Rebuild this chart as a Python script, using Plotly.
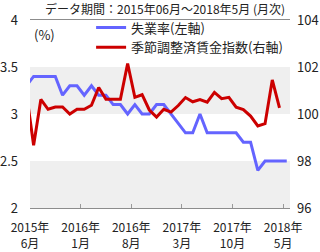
import numpy as np
import plotly.graph_objects as go

# Data (monthly; first value sits just left of the visible window)
unemployment = [3.3, 3.4, 3.4, 3.4, 3.4, 3.2, 3.3, 3.3, 3.2, 3.3, 3.2, 3.2, 3.1, 3.1,
                3.0, 3.1, 3.0, 3.0, 3.1, 3.1, 3.0, 2.9, 2.8, 2.8, 3.0, 2.8, 2.8, 2.8,
                2.8, 2.8, 2.7, 2.7, 2.4, 2.5, 2.5, 2.5, 2.5]
wage_index = [100.9, 98.67, 100.62, 100.2, 100.3, 100.3, 100.0, 100.2, 100.2, 100.37,
              101.13, 100.63, 100.63, 100.63, 102.15, 100.71, 100.82, 100.17, 99.87,
              100.2, 100.08, 100.36, 100.7, 100.52, 100.61, 100.5, 100.92, 100.65,
              100.71, 100.29, 100.19, 99.91, 99.49, 99.59, 101.45, 100.26]
tick_labels = ["2015年<br>6月", "2016年<br>1月", "2016年<br>8月",
               "2017年<br>3月", "2017年<br>10月", "2018年<br>5月"]
tick_pos = [-0.5, 6.5, 13.5, 20.5, 27.5, 34.5]

x_blue = np.arange(len(unemployment)) - 1
x_red = np.arange(len(wage_index)) - 1

FONT = "Noto Sans CJK JP"
fig = go.Figure()
fig.add_trace(go.Scatter(x=x_blue, y=unemployment, mode="lines", name="失業率(左軸)",
                         line=dict(color="#6464ff", width=3), yaxis="y"))
fig.add_trace(go.Scatter(x=x_red, y=wage_index, mode="lines", name="季節調整済賃金指数(右軸)",
                         line=dict(color="#cc0000", width=3), yaxis="y2"))

for lo, hi in [(2, 2.5), (3, 3.5)]:
    fig.add_shape(type="rect", xref="paper", yref="y", x0=0, x1=1, y0=lo, y1=hi,
                  fillcolor="#efefef", line_width=0, layer="below")

fig.update_layout(
    width=320, height=252,
    margin=dict(l=30, r=30, t=18, b=44),
    paper_bgcolor="white", plot_bgcolor="white",
    font=dict(family=FONT, size=13, color="#222"),
    showlegend=True,
    legend=dict(x=0.235, y=1.04, xanchor="left", yanchor="top",
                bgcolor="rgba(0,0,0,0)", font=dict(size=13, color="#222"),
                tracegroupgap=0, itemwidth=30),
    xaxis=dict(range=[-0.5, 35.45], tickvals=tick_pos, ticktext=tick_labels,
               showgrid=False, zeroline=False, showline=True, linecolor="#8c8c8c",
               mirror=True, ticks="inside", ticklen=4, tickcolor="#999",
               ticklabelstandoff=9, tickfont=dict(size=12), automargin=False),
    yaxis=dict(range=[2, 4], dtick=0.5, tick0=2, showgrid=False, zeroline=False,
               showline=False, ticks="", ticklabelstandoff=11, tickfont=dict(size=13),
               automargin=False),
    yaxis2=dict(range=[96, 104], dtick=2, tick0=96, overlaying="y", side="right",
                showgrid=False, zeroline=False, showline=False, ticks="",
                ticklabelstandoff=6, tickfont=dict(size=13), automargin=False),
    annotations=[
        dict(text="データ期間：2015年06月～2018年5月 (月次)", xref="paper", yref="paper",
             x=0.52, y=1, yshift=12, xanchor="center", yanchor="middle", showarrow=False,
             font=dict(size=12, color="#222")),
        dict(text="(%)", xref="paper", yref="paper", x=0.0, y=0.925, xanchor="left",
             yanchor="middle", xshift=2, showarrow=False, font=dict(size=13, color="#222")),
    ],
)

fig.write_html("out.html")
